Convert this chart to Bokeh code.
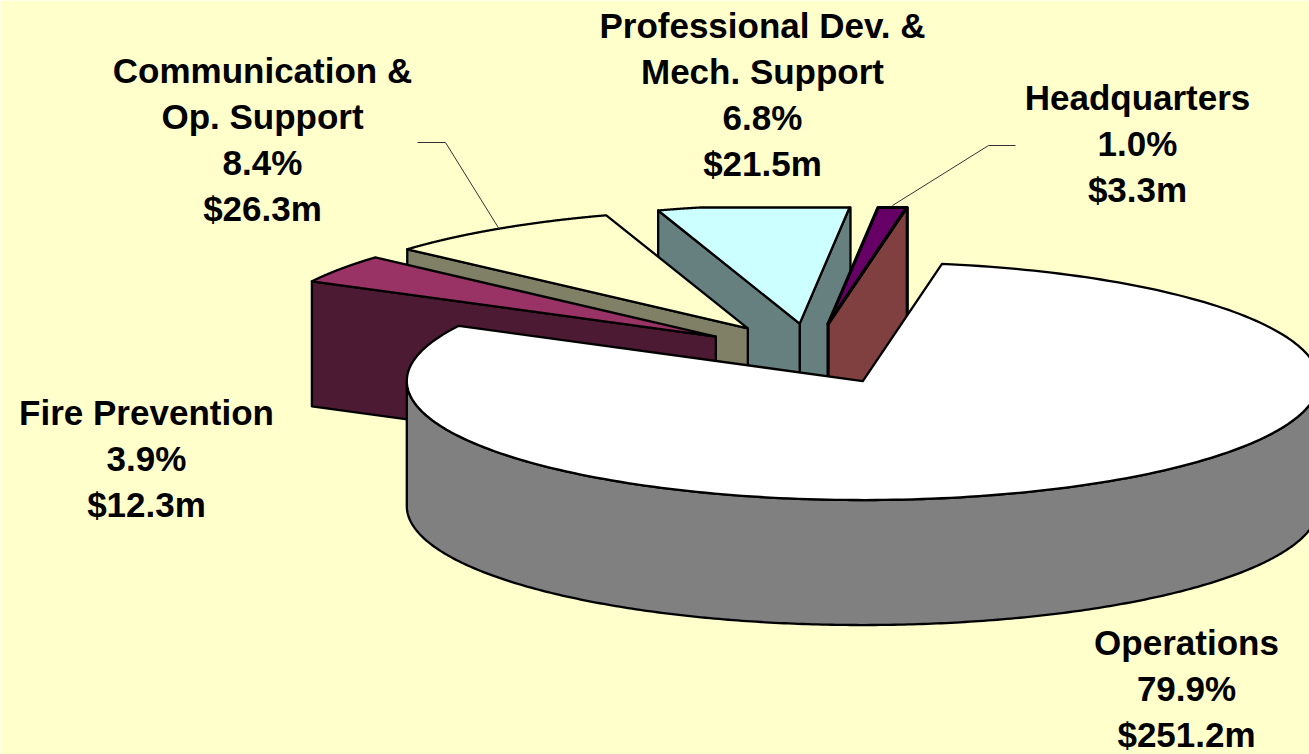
import numpy as np
from bokeh.core.properties import value
from bokeh.embed import file_html
from bokeh.models import Range1d
from bokeh.plotting import figure
from bokeh.resources import INLINE

# Budget shares, clockwise from the top edge of the Operations slice
categories = ["Operations", "Fire Prevention", "Communication & Op. Support",
              "Professional Dev. & Mech. Support", "Headquarters"]
shares = [79.9, 3.9, 8.4, 6.8, 1.0]
amounts = [251.2, 12.3, 26.3, 21.5, 3.3]
name_lines = [["Operations"], ["Fire Prevention"], ["Communication &", "Op. Support"],
              ["Professional Dev. &", "Mech. Support"], ["Headquarters"]]

top_colors = ["#FFFFFF", "#993366", "#FFFFCC", "#CCFFFF", "#660066"]
wall_colors = ["#808080", "#4C1A33", "#808066", "#668080", "#804040"]

# Projection of the tilted disc, in page pixels
CX, CY = 811.0, 353.3
RX, RY = 456.0, 119.0
DEPTH = 125.0
EXPLODE = 0.255
START_DEG = 80.0
CLIP_TOP = 207.0
PAPER = "#FFFFCC"


def clip_top(xs, ys):
    """Clip a polygon against the horizontal line y = CLIP_TOP."""
    out_x, out_y = [], []
    n = len(xs)
    for i in range(n):
        x0, y0 = xs[i], ys[i]
        x1, y1 = xs[(i + 1) % n], ys[(i + 1) % n]
        in0, in1 = y0 >= CLIP_TOP, y1 >= CLIP_TOP
        if in0:
            out_x.append(x0)
            out_y.append(y0)
        if in0 != in1:
            t = (CLIP_TOP - y0) / (y1 - y0)
            out_x.append(x0 + t * (x1 - x0))
            out_y.append(CLIP_TOP)
    return out_x, out_y


p = figure(width=1309, height=754, output_backend="svg", toolbar_location=None,
           x_range=Range1d(0, 1309), y_range=Range1d(754, 0),
           min_border=0, background_fill_color=PAPER, border_fill_color=PAPER,
           outline_line_color=None, x_axis_type=None, y_axis_type=None)
p.grid.visible = False


def polygon(xs, ys, color, width=2.3):
    xs, ys = clip_top(list(xs), list(ys))
    p.patch(xs, ys, fill_color=color, line_color="black", line_width=width,
            line_join="round")


# Slice geometry from the shares
spans = np.array(shares) * 3.6
ends = START_DEG - np.cumsum(spans)
starts = ends + spans
slices = []
for a0, a1 in zip(starts, ends):
    mid = np.radians((a0 + a1) / 2)
    ax = CX + RX * EXPLODE * np.cos(mid)
    ay = CY - RY * EXPLODE * np.sin(mid)
    slices.append((ax, ay, a0, a1))


def rim(ax, ay, deg):
    r = np.radians(deg)
    return ax + RX * np.cos(r), ay - RY * np.sin(r)


def edge_wall(i, deg, width=2.3):
    ax, ay = slices[i][:2]
    ex, ey = rim(ax, ay, deg)
    polygon([ax, ex, ex, ax], [ay, ey, ey + DEPTH, ay + DEPTH], wall_colors[i], width)


def top_face(i, width=2.3):
    ax, ay, a0, a1 = slices[i]
    arc = np.linspace(a0, a1, 240)
    rx, ry = rim(ax, ay, arc)
    polygon(np.r_[ax, rx], np.r_[ay, ry], top_colors[i], width)


# Painted back to front: Professional, Headquarters, Communication, Fire, Operations
edge_wall(3, slices[3][3])
edge_wall(3, slices[3][2])
top_face(3)

edge_wall(4, slices[4][3], 3.2)
top_face(4, 3.2)

edge_wall(2, slices[2][2])
top_face(2)

edge_wall(1, slices[1][2])
top_face(1)

ax0, ay0 = slices[0][:2]
front = np.linspace(-180, 0, 300)
fx, fy = rim(ax0, ay0, front)
polygon(np.r_[fx, fx[::-1]], np.r_[fy, fy[::-1] + DEPTH], wall_colors[0])
top_face(0)

# Leader lines for the two labels set away from their slices
p.line([417, 445, 499], [142, 142, 229], line_color="#333333", line_width=1)
p.line([1015, 988, 892], [145, 145, 205], line_color="#333333", line_width=1)

# Labels: category lines, share, amount
label_x = [1186, 146, 262, 762, 1137]
label_y = [642, 412, 70, 25, 97]
LINE_STEP = 46.0
xs, ys, texts = [], [], []
for lx, ly, names, share, amount in zip(label_x, label_y, name_lines, shares, amounts):
    rows = names + [f"{share:.1f}%", f"${amount:.1f}m"]
    for k, row in enumerate(rows):
        xs.append(lx)
        ys.append(ly + k * LINE_STEP)
        texts.append(row)
p.text(xs, ys, text=texts, text_font=value("Liberation Sans"), text_font_style="bold",
       text_font_size="35px", text_color="black", text_align="center",
       text_baseline="middle")

open("out.html", "w").write(file_html(p, INLINE))
